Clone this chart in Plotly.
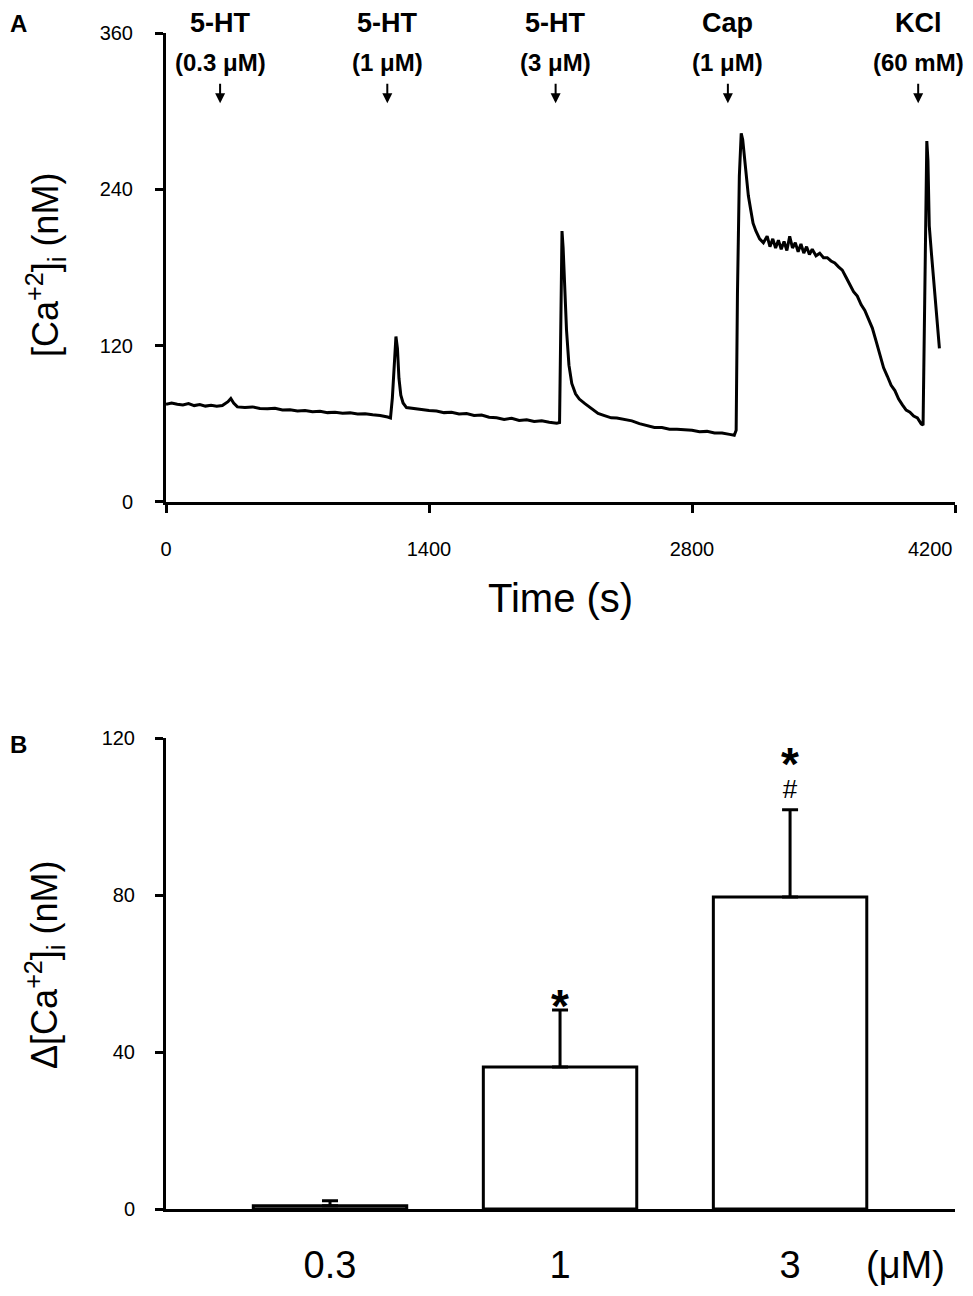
import plotly.graph_objects as go

# panel A: [Ca2+]i trace
time_s = [0, 30, 60, 90, 120, 150, 180, 210, 240, 270, 300, 330, 345, 360, 380,
          420, 460, 500, 540, 580, 620, 660, 700, 740, 780, 820, 860, 900, 940,
          980, 1020, 1060, 1100, 1140, 1180, 1195, 1205, 1215, 1224, 1232, 1240,
          1250, 1262, 1280, 1320, 1360, 1400, 1440, 1480, 1520, 1560, 1600, 1640,
          1680, 1720, 1760, 1800, 1840, 1880, 1920, 1960, 2000, 2040, 2080, 2095,
          2102, 2108, 2114, 2122, 2132, 2145, 2160, 2180, 2200, 2230, 2260, 2300,
          2330, 2370, 2400, 2440, 2480, 2520, 2560, 2600, 2640, 2680, 2720, 2760,
          2800, 2840, 2880, 2920, 2960, 3000, 3025, 3035, 3042, 3052, 3062, 3070,
          3080, 3090, 3100, 3113, 3125, 3140, 3160, 3180, 3200, 3215, 3230, 3245,
          3260, 3275, 3290, 3305, 3320, 3335, 3350, 3365, 3380, 3395, 3410, 3425,
          3440, 3460, 3480, 3500, 3520, 3540, 3560, 3580, 3600, 3620, 3640, 3660,
          3680, 3700, 3720, 3740, 3760, 3780, 3800, 3820, 3840, 3860, 3880, 3900,
          3920, 3940, 3960, 3980, 4000, 4020, 4030, 4038, 4045, 4050, 4056, 4063,
          4075, 4091, 4105, 4117]
ca_nm = [75, 76, 75, 74.5, 75.5, 74, 74.8, 73.6, 74.2, 73.5, 74, 77, 79.5, 76, 73,
         72.5, 73, 71.8, 71.5, 72, 70.6, 70.8, 69.9, 70.3, 69.2, 69.6, 68.6, 68.9, 68.1,
         68.4, 67.6, 67.8, 66.9, 66.4, 65.2, 64.5, 80, 110, 127, 118, 95,
         82, 76, 72.5, 71.5, 71, 70.2, 69.8, 68.6, 68.9, 67.5, 67.9, 66.4,
         66.8, 65.1, 64.6, 63.4, 64.3, 62.6, 63.1, 61.8, 62.4, 61.2, 60.5, 61,
         160, 208, 195, 165, 132, 105, 91, 83, 79, 75.5, 72.5, 68,
         66.5, 64.6, 64.5, 63.2, 62.3, 60.1, 58.8, 57.2, 57.1, 55.9, 55.9, 55.4,
         55.1, 54.0, 54.2, 52.9, 53.0, 51.9, 51.2, 55, 160, 250, 283, 278,
         265, 248, 235, 224, 214, 208, 202, 199, 204, 196, 202, 195,
         201, 194, 200, 193, 204, 195, 199, 192, 198, 191, 196, 190,
         194, 189, 191, 187.5, 187.5, 185, 183.5, 180.5, 178, 172.5, 167.5, 161.5,
         158, 151.5, 147, 139.5, 133.5, 123.5, 113.5, 103, 96.5, 89.5, 85.5, 79,
         74.5, 70.5, 69, 66, 64.5, 60, 59, 140, 250, 277, 262, 212,
         190, 165, 140, 118]

stim_times = [288, 1178, 2074, 2991, 4004]
stim_names = ["5-HT", "5-HT", "5-HT", "Cap", "KCl"]
stim_doses = ["(0.3 μM)", "(1 μM)", "(3 μM)", "(1 μM)", "(60 mM)"]
time_ticks = [0, 1400, 2800, 4200]
ca_ticks = [0, 120, 240, 360]

# panel B: peak response
conc_labels = ["0.3", "1", "3"]
delta_ca = [0.8, 36.2, 79.5]
delta_sem = [1.3, 14.5, 22.2]
star_marks = ["", "*", "*"]
hash_marks = ["", "", "#"]
delta_ticks = [0, 40, 80, 120]

FONT = "Arial, Liberation Sans, sans-serif"

fig = go.Figure()
fig.add_trace(go.Scatter(x=time_s, y=ca_nm, mode="lines",
                         line=dict(color="black", width=3),
                         xaxis="x", yaxis="y", showlegend=False))
fig.add_trace(go.Bar(x=conc_labels, y=delta_ca, width=0.667,
                     marker=dict(color="white", line=dict(color="black", width=3)),
                     error_y=dict(type="data", array=delta_sem, arrayminus=[0, 0, 0],
                                  symmetric=False, color="black", thickness=3, width=8),
                     xaxis="x2", yaxis="y2", showlegend=False))

axis_style = dict(showline=True, linecolor="black", linewidth=3, showgrid=False,
                  zeroline=False, ticks="outside", ticklen=8, tickwidth=3,
                  tickcolor="black", automargin=False,
                  tickfont=dict(family=FONT, size=20, color="black"))

# the page body has an 8px margin, so the figure is a bit smaller than the window
fig.update_layout(
    width=957, height=1280,
    margin=dict(l=158, r=10, t=25, b=79),
    plot_bgcolor="white", paper_bgcolor="white",
    font=dict(family=FONT, color="black"),
    xaxis=dict(axis_style, domain=[0, 1], anchor="y", range=[0, 4200],
               tickvals=time_ticks, ticktext=[str(v) for v in time_ticks[:-1]] + [""],
               ticklabelstandoff=19),
    yaxis=dict(axis_style, domain=[0.6012, 1], anchor="x", range=[0, 360],
               tickvals=ca_ticks, ticklabelstandoff=18),
    xaxis2=dict(axis_style, domain=[0, 1], anchor="y2", type="category",
                range=[-0.713, 2.717], ticks="", ticklabelstandoff=20,
                tickfont=dict(family=FONT, size=38, color="black")),
    yaxis2=dict(axis_style, domain=[0, 0.4005], anchor="x2", range=[0, 120],
                tickvals=delta_ticks, ticklabelstandoff=16),
)

ann = []
for t, name, dose in zip(stim_times, stim_names, stim_doses):
    ann.append(dict(x=t, y=1.0085, xref="x", yref="paper", text="<b>" + name + "</b>",
                    showarrow=False, font=dict(size=27), yanchor="middle"))
    ann.append(dict(x=t, y=0.9753, xref="x", yref="paper", text="<b>" + dose + "</b>",
                    showarrow=False, font=dict(size=24), yanchor="middle"))
    ann.append(dict(x=t, y=306, xref="x", yref="y", text="", showarrow=True,
                    ax=0, ay=-21, arrowhead=2, arrowsize=1, arrowwidth=2,
                    arrowcolor="black"))

# last time tick label sits left of its tick, as in the original
ann.append(dict(x=time_ticks[-1], y=0.5612, xref="x", yref="paper", text=str(time_ticks[-1]),
                showarrow=False, font=dict(size=20), xanchor="right", yanchor="middle"))

for i, (v, e) in enumerate(zip(delta_ca, delta_sem)):
    top = v + e
    if star_marks[i] and hash_marks[i]:
        txt = ("<span style='font-size:46px'><b>" + star_marks[i] + "</b></span><br>"
               "<span style='font-size:26px'>" + hash_marks[i] + "</span>")
        ann.append(dict(x=i, y=top + 1, xref="x2", yref="y2", text=txt,
                        showarrow=False, font=dict(size=14), yanchor="bottom"))
    elif star_marks[i]:
        ann.append(dict(x=i, y=top - 6.1, xref="x2", yref="y2", text="<b>" + star_marks[i] + "</b>",
                        showarrow=False, font=dict(size=46), yanchor="bottom"))

ann += [
    dict(x=2.5, y=-0.0476, xref="x2", yref="paper", text="(μM)", showarrow=False,
         font=dict(size=38), yanchor="middle"),
    dict(x=0.5, y=0.5196, xref="paper", yref="paper", text="Time (s)", showarrow=False,
         font=dict(size=40), yanchor="middle"),
    dict(x=-0.1534, y=0.8027, xref="paper", yref="paper",
         text="[Ca<sup>+2</sup>]<sub>i</sub> (nM)", textangle=-90, showarrow=False,
         font=dict(size=36), xanchor="center", yanchor="middle"),
    dict(x=-0.1534, y=0.2075, xref="paper", yref="paper",
         text="Δ[Ca<sup>+2</sup>]<sub>i</sub> (nM)", textangle=-90, showarrow=False,
         font=dict(size=36), xanchor="center", yanchor="middle"),
    dict(x=-0.2003, y=1.0085, xref="paper", yref="paper", text="<b>A</b>",
         showarrow=False, font=dict(size=24), xanchor="left", yanchor="middle"),
    dict(x=-0.2003, y=0.3946, xref="paper", yref="paper", text="<b>B</b>",
         showarrow=False, font=dict(size=24), xanchor="left", yanchor="middle"),
]
fig.update_layout(annotations=ann)

fig.write_html("out.html")
